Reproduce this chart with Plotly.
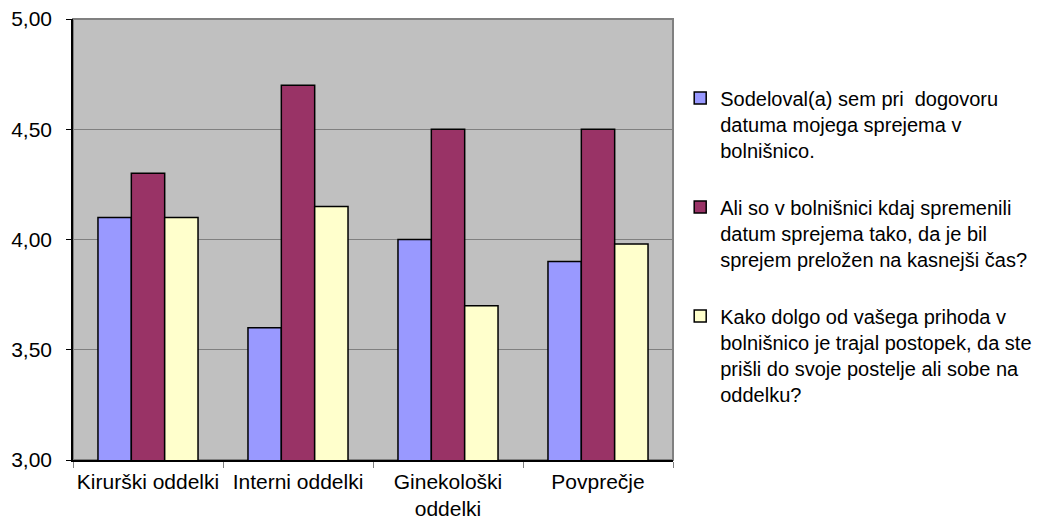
import plotly.graph_objects as go

categories = ["Kirurški oddelki", "Interni oddelki", "Ginekološki<br>oddelki", "Povprečje"]
series_names = [
    "Sodeloval(a) sem pri  dogovoru<br>datuma mojega sprejema v<br>bolnišnico.",
    "Ali so v bolnišnici kdaj spremenili<br>datum sprejema tako, da je bil<br>sprejem preložen na kasnejši čas?",
    "Kako dolgo od vašega prihoda v<br>bolnišnico je trajal postopek, da ste<br>prišli do svoje postelje ali sobe na<br>oddelku?",
]
values_1 = [4.10, 3.60, 4.00, 3.90]
values_2 = [4.30, 4.70, 4.50, 4.50]
values_3 = [4.10, 4.15, 3.70, 3.98]
colors = ["#9999FF", "#993366", "#FFFFCC"]
y_ticks = [3.0, 3.5, 4.0, 4.5, 5.0]

FONT = "Liberation Sans, Arial, sans-serif"

fig = go.Figure()
for i, (name, vals) in enumerate(zip(series_names, [values_1, values_2, values_3])):
    fig.add_trace(go.Bar(
        x=categories, y=vals, name=name, legendgroup=f"g{i}",
        marker=dict(color=colors[i], line=dict(color="black", width=1.5)),
    ))

fig.update_layout(
    width=1038, height=521,
    margin=dict(l=73, r=365, t=19, b=61, autoexpand=False),
    paper_bgcolor="white", plot_bgcolor="#C0C0C0",
    barmode="group", bargap=0.333, bargroupgap=0,
    separators=", ",
    font=dict(family=FONT, size=20, color="black"),
    showlegend=True,
    legend=dict(
        x=1.012, xanchor="left", y=0.865, yanchor="top",
        font=dict(family=FONT, size=20, color="black"),
        tracegroupgap=28, valign="top", traceorder="grouped",
        bgcolor="rgba(0,0,0,0)",
    ),
    xaxis=dict(
        automargin=False, tickangle=0,
        showline=True, linecolor="black", linewidth=1.5,
        ticks="outside", tickson="boundaries", ticklen=6, tickcolor="#808080",
        showgrid=False, ticklabelstandoff=2,
        tickfont=dict(family=FONT, size=21, color="black"),
    ),
    yaxis=dict(
        automargin=False,
        range=[3, 5], tickvals=y_ticks, tickformat=".2f",
        showline=True, linecolor="black", linewidth=1.5,
        ticks="outside", ticklen=5, tickcolor="black",
        showgrid=True, gridcolor="#808080", gridwidth=1,
        zeroline=False, ticklabelstandoff=10,
        tickfont=dict(family=FONT, size=21, color="black"),
    ),
    shapes=[dict(type="rect", xref="paper", yref="paper", x0=0, x1=1, y0=0, y1=1,
                 line=dict(color="#808080", width=2), layer="below")],
)

fig.write_html("out.html", config={"displayModeBar": False},
               post_script="document.body.style.margin='0px';")
